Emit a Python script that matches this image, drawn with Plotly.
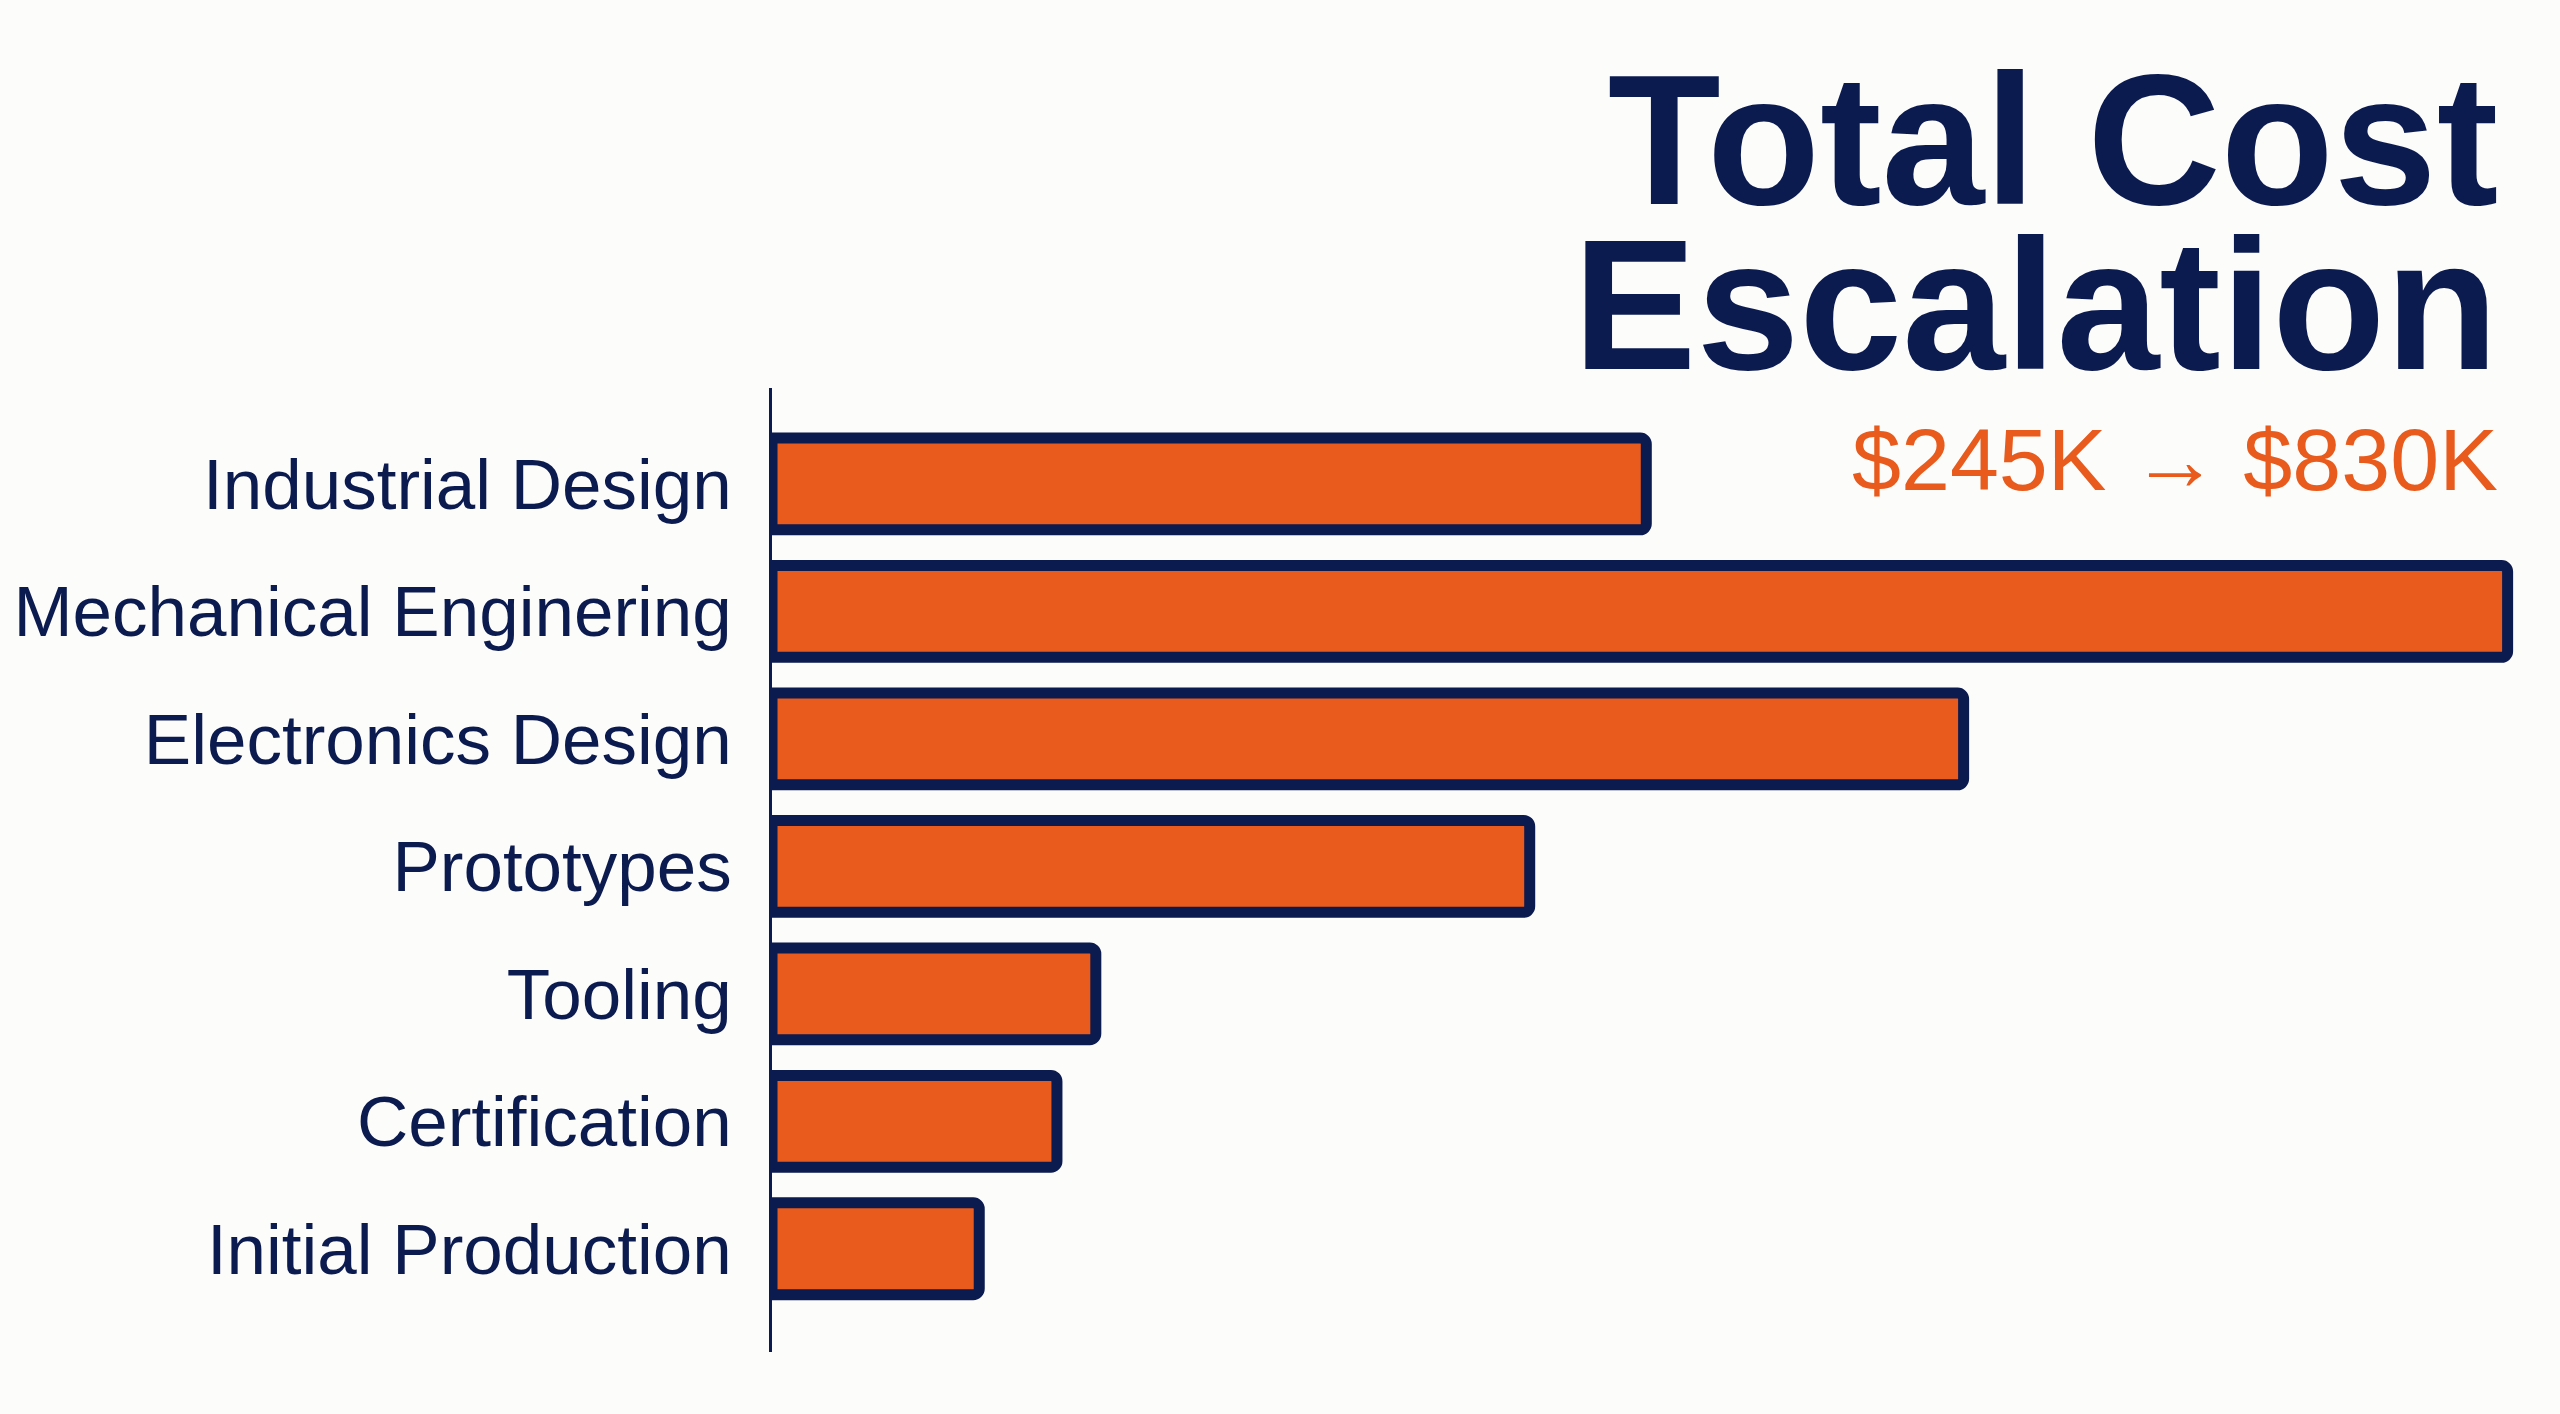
import plotly.graph_objects as go

categories = ["Industrial Design", "Mechanical Enginering", "Electronics Design",
              "Prototypes", "Tooling", "Certification", "Initial Production"]
costs_k = [135, 268, 184, 117, 50, 44, 32]

title_line1 = "Total Cost"
title_line2 = "Escalation"
subtitle = "$245K \u2192 $830K"

NAVY = "#0B1A4F"
ORANGE = "#E85B1C"
BG = "#FCFCFA"
FONT = "Liberation Sans, Arial, sans-serif"

W, H = 2560, 1414
L, R, T, B = 772, 20, 388, 62
PW, PH = W - L - R, H - T - B

def px(x):
    return (x - L) / PW

def py(y):
    return (H - B - y) / PH

fig = go.Figure()
fig.add_trace(go.Bar(
    x=costs_k, y=categories, orientation="h",
    marker=dict(color=ORANGE, line=dict(color=NAVY, width=11), cornerradius=6),
    width=0.72, hoverinfo="x+y",
))

fig.update_layout(
    width=W, height=H,
    margin=dict(l=L, r=R, t=T, b=B, pad=0, autoexpand=False),
    paper_bgcolor=BG, plot_bgcolor=BG,
    showlegend=False,
    font=dict(family=FONT, color=NAVY),
    xaxis=dict(range=[0, 273], visible=False, showgrid=False, zeroline=False,
               fixedrange=True, automargin=False),
    yaxis=dict(type="category", range=[6.81, -0.753], showline=True, linecolor=NAVY,
               linewidth=3, showgrid=False, zeroline=False, ticks="",
               ticklabelstandoff=23, automargin=False,
               tickfont=dict(size=71, color=NAVY, family=FONT)),
)

title_text = ("<b><span style='font-size:185px'>" + title_line1 + "</span><br>"
              "<span style='font-size:185px'>" + title_line2 + "</span></b>")
fig.add_annotation(text=title_text, x=px(2500), y=py(223), xref="paper", yref="paper",
                   xanchor="right", yanchor="middle", align="right", showarrow=False,
                   font=dict(size=127, color=NAVY, family=FONT))
fig.add_annotation(text=subtitle, x=px(2500), y=py(460), xref="paper", yref="paper",
                   xanchor="right", yanchor="middle", showarrow=False,
                   font=dict(size=88, color=ORANGE, family=FONT))

fig.write_html("out.html")
